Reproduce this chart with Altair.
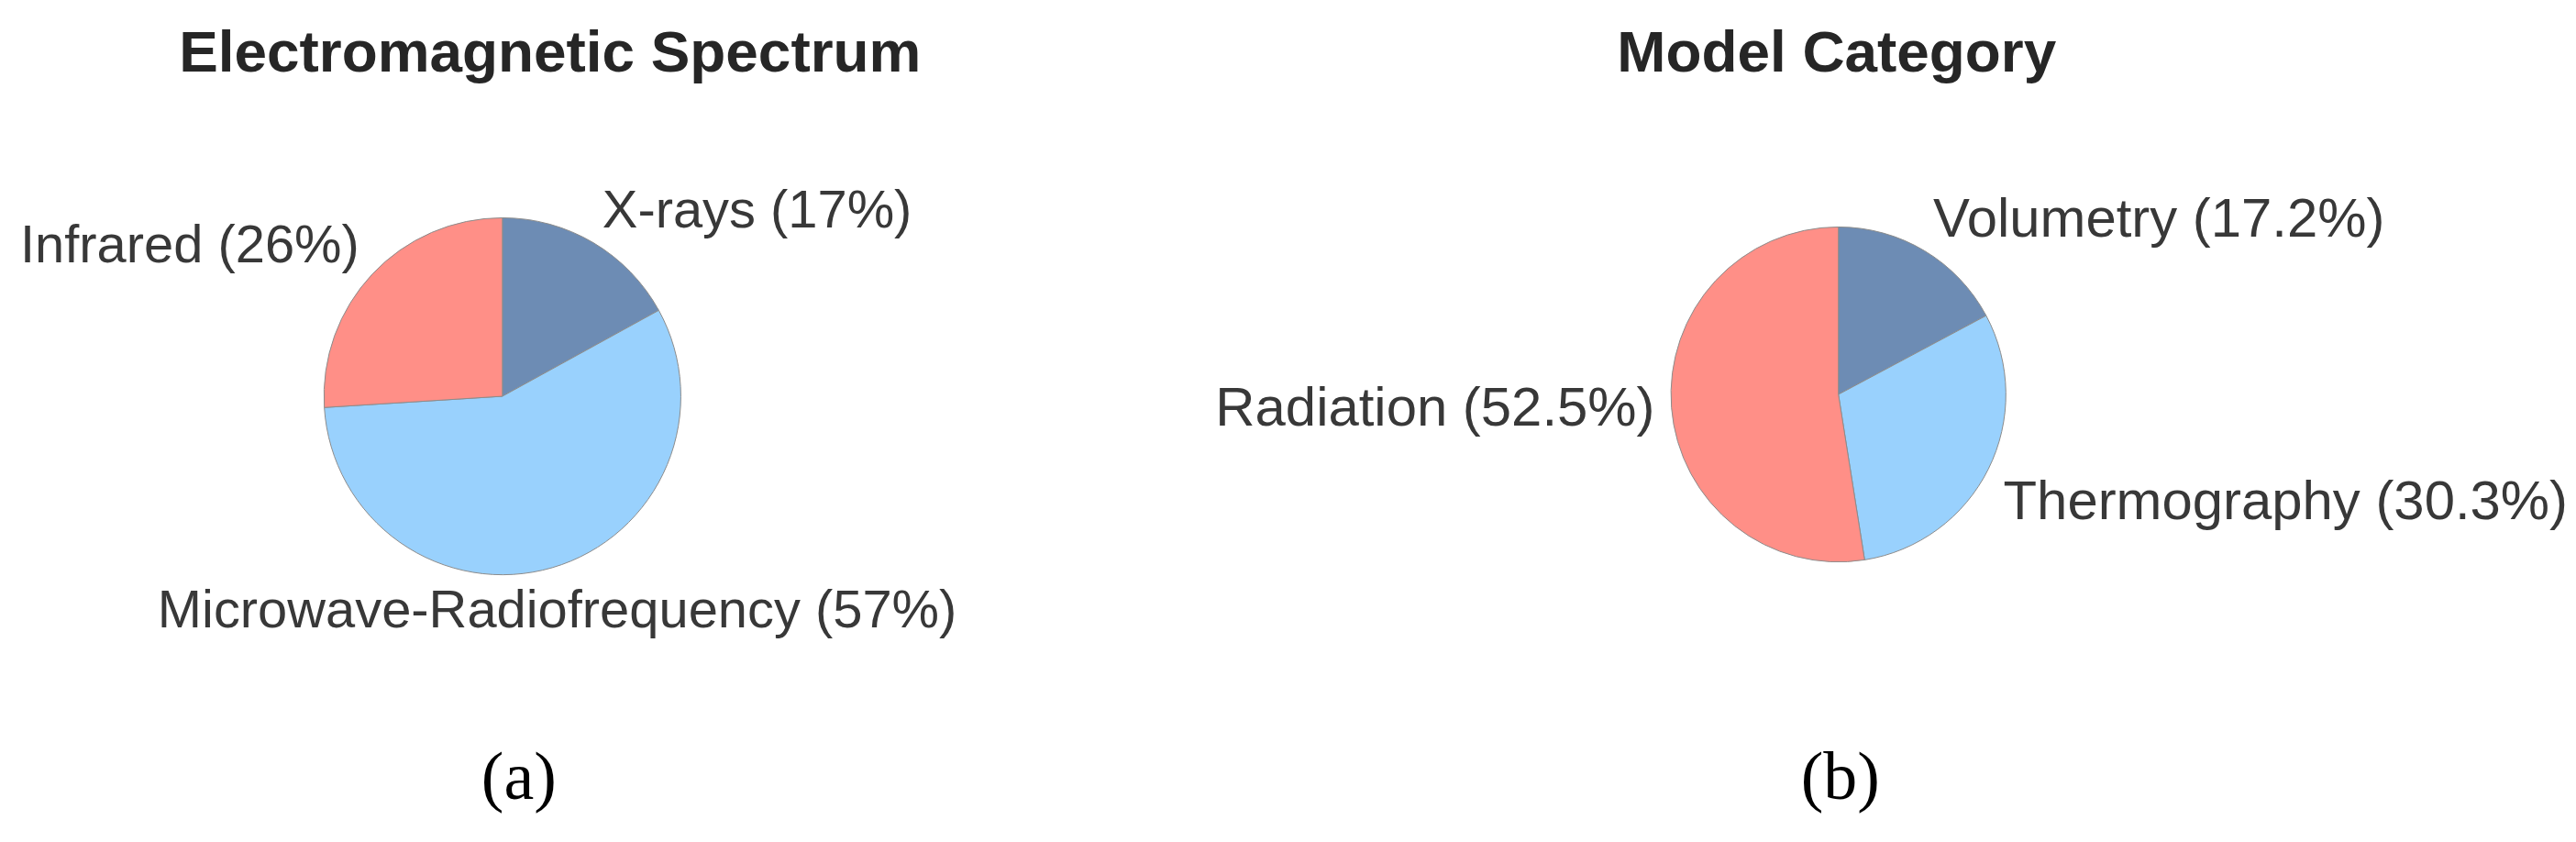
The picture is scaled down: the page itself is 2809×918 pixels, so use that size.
import altair as alt
import pandas as pd

# ---- data ----
spectrum_title = "Electromagnetic Spectrum"
spectrum_cats = ["X-rays", "Microwave-Radiofrequency", "Infrared"]
spectrum_vals = [17, 57, 26]

model_title = "Model Category"
model_cats = ["Volumetry", "Thermography", "Radiation"]
model_vals = [17.2, 30.3, 52.5]

tags = ["(a)", "(b)"]
slice_colors = ["#6d8cb4", "#99d1fd", "#ff8f87"]

SANS = "Liberation Sans, Arial, Helvetica, sans-serif"
SERIF = "Liberation Serif, Times New Roman, serif"


def panel(cats, vals, title, tag, cx, cy, r, label_size, title_x, tag_x, width, height):
    df = pd.DataFrame({"cat": cats, "value": vals, "idx": list(range(len(cats)))})
    base = alt.Chart(df)
    theta_scale = alt.Scale(domain=[0, 100])

    arcs = base.mark_arc(outerRadius=r, stroke="#8c8c8c", strokeWidth=1).encode(
        theta=alt.Theta("value:Q", stack=True, scale=theta_scale),
        color=alt.Color("cat:N", scale=alt.Scale(domain=cats, range=slice_colors), legend=None),
        order=alt.Order("idx:Q"),
        x=alt.value(cx),
        y=alt.value(cy),
    )

    lab_base = base.transform_window(
        cum="sum(value)", sort=[alt.SortField("idx")]
    ).transform_calculate(
        mid="datum.cum - datum.value / 2",
    ).transform_calculate(
        sx="sin(2 * PI * datum.mid / 100)",
        cy="cos(2 * PI * datum.mid / 100)",
        label="datum.cat + ' (' + datum.value + '%)'",
    ).transform_calculate(
        al="datum.sx > 0.3 ? 'left' : (datum.sx < -0.3 ? 'right' : 'center')",
        bl="datum.cy > 0.5 ? 'alphabetic' : (datum.cy < -0.3 ? 'top' : 'middle')",
    )

    layers = [arcs]
    for al in ["left", "center", "right"]:
        for bl in ["alphabetic", "top", "middle"]:
            layers.append(
                lab_base.transform_filter(f"datum.al == '{al}' && datum.bl == '{bl}'")
                .mark_text(radius=1.1 * r, align=al, baseline=bl, fontSize=label_size,
                           font=SANS, color="#383838")
                .encode(
                    theta=alt.Theta("mid:Q", stack=False, scale=theta_scale),
                    text="label:N",
                    x=alt.value(cx),
                    y=alt.value(cy),
                )
            )

    ttl = alt.Chart(pd.DataFrame({"t": [title]})).mark_text(
        font=SANS, fontSize=64, fontWeight="bold", color="#262626",
        align="center", baseline="alphabetic"
    ).encode(text="t:N", x=alt.value(title_x), y=alt.value(69))

    tg = alt.Chart(pd.DataFrame({"t": [tag]})).mark_text(
        font=SERIF, fontSize=74, color="#000000", align="center", baseline="alphabetic"
    ).encode(text="t:N", x=alt.value(tag_x), y=alt.value(864))

    layers += [ttl, tg]
    return alt.layer(*layers).properties(width=width, height=height)


left = panel(spectrum_cats, spectrum_vals, spectrum_title, tags[0],
             cx=541, cy=424, r=195, label_size=58, title_x=593, tag_x=559,
             width=1300, height=902)
right = panel(model_cats, model_vals, model_title, tags[1],
              cx=701, cy=422, r=183, label_size=60, title_x=699, tag_x=703,
              width=1493, height=902)

chart = alt.hconcat(left, right, spacing=0, bounds="flush").resolve_scale(
    color="independent", theta="independent"
).properties(padding=0, background="white").configure_view(stroke=None)

chart.save("out.html", embed_options={"renderer": "svg", "actions": False})
